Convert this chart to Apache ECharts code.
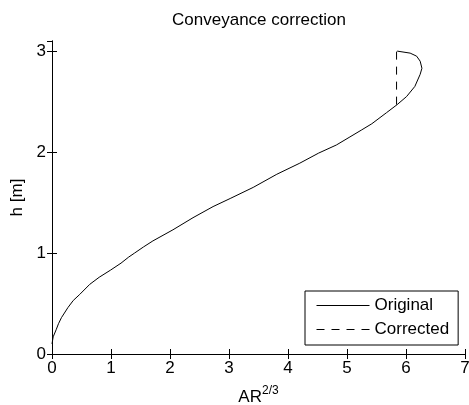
<!DOCTYPE html>
<html><head><meta charset="utf-8">
<script src="https://cdn.jsdelivr.net/npm/echarts@6/dist/echarts.min.js"></script>
<style>html,body{margin:0;padding:0;background:#fff}#c{width:469px;height:405px}</style>
</head><body><div id="c"></div>
<script>
// Original curve: AR^(2/3) values and depths h [m]
var origX = [0.00,0.02,0.07,0.11,0.16,0.27,0.36,0.47,0.64,0.80,0.99,1.17,1.30,1.40,1.55,1.71,2.05,2.39,2.73,3.02,3.41,3.81,4.20,4.52,4.82,5.05,5.25,5.42,5.67,5.85,6.01,6.15,6.24,6.27,6.24,6.18,6.07,5.85];
var origH = [0.10,0.17,0.24,0.30,0.36,0.46,0.53,0.59,0.69,0.76,0.83,0.90,0.96,1.00,1.06,1.12,1.23,1.35,1.46,1.54,1.65,1.78,1.89,1.99,2.07,2.15,2.22,2.28,2.39,2.47,2.55,2.65,2.77,2.83,2.90,2.95,2.98,3.00];
// Corrected segment
var corrX = [5.84,5.84];
var corrH = [2.47,3.00];
var xTicks = [0,1,2,3,4,5,6,7];
var yTicks = [0,1,2,3];

function pairs(xs, hs){ return xs.map(function(x,i){ return [x, hs[i]]; }); }

var FONT = 'Liberation Sans';
var AX = '#000';
var chart = echarts.init(document.getElementById('c'), null, {renderer:'canvas'});
var baseAxisLine = {show:true, lineStyle:{color:AX, width:1}};
var tick = {show:true, inside:true, length:5, lineStyle:{color:AX, width:1}};
chart.setOption({
  animation:false,
  backgroundColor:'#fff',
  title:{text:'Conveyance correction', left:259, textAlign:'center', top:12, padding:0,
    textStyle:{fontFamily:FONT, fontSize:17, fontWeight:'normal', color:'#000'}},
  grid:{left:52, right:4, top:41, bottom:51, containLabel:false, outerBoundsMode:'none'},
  legend:{orient:'vertical', left:305, top:291, padding:[6,9,7,11], itemGap:7,
    itemWidth:53, itemHeight:14, backgroundColor:'#fff', borderColor:'#000', borderWidth:1,
    itemStyle:{opacity:0}, lineStyle:{width:1},
    textStyle:{fontFamily:FONT, fontSize:17, color:'#000'},
    data:['Original','Corrected']},
  xAxis:[
    {type:'value', min:xTicks[0], max:xTicks[xTicks.length-1], interval:1, position:'bottom',
     axisLine:baseAxisLine, axisTick:tick, splitLine:{show:false},
     axisLabel:{fontFamily:FONT, fontSize:17, color:'#000', margin:6},
     name:'{a|AR}{s|2/3}', nameLocation:'middle', nameGap:31,
     nameTextStyle:{fontFamily:FONT, color:'#000',
       rich:{a:{fontFamily:FONT, fontSize:17, color:'#000'},
             s:{fontFamily:FONT, fontSize:12, color:'#000', padding:[0,0,12,0]}}}},
    {type:'value', min:xTicks[0], max:xTicks[xTicks.length-1], interval:1, position:'top',
     axisLine:baseAxisLine, axisTick:tick, axisLabel:{show:false}, splitLine:{show:false}}
  ],
  yAxis:[
    {type:'value', min:yTicks[0], max:3.1, interval:1, position:'left',
     axisLine:baseAxisLine, axisTick:tick, splitLine:{show:false},
     axisLabel:{fontFamily:FONT, fontSize:17, color:'#000', margin:6, showMaxLabel:false},
     name:'h [m]', nameLocation:'middle', nameGap:26, nameRotate:90,
     nameTextStyle:{fontFamily:FONT, fontSize:17, color:'#000'}},
    {type:'value', min:yTicks[0], max:3.1, interval:1, position:'right',
     axisLine:baseAxisLine, axisTick:tick, axisLabel:{show:false}, splitLine:{show:false}}
  ],
  series:[
    {name:'Original', type:'line', data:pairs(origX, origH), symbol:'none', smooth:false,
     lineStyle:{color:'#000', width:1, type:'solid'}, itemStyle:{color:'#000'}},
    {name:'Corrected', type:'line', data:pairs(corrX, corrH), symbol:'none',
     lineStyle:{color:'#000', width:1, type:[8,7]}, itemStyle:{color:'#000'}}
  ]
});
</script></body></html>
